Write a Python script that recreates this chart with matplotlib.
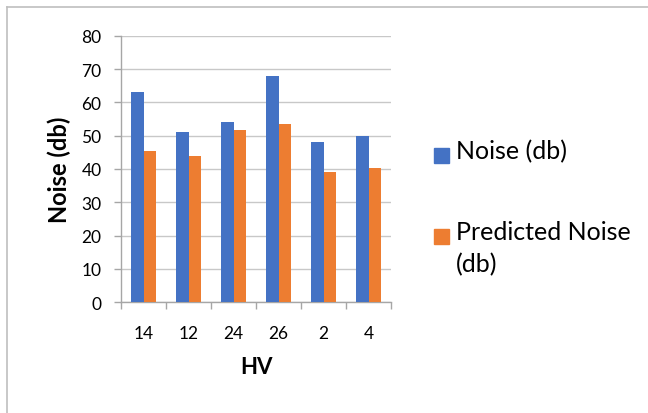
import matplotlib
matplotlib.use("Agg")
import matplotlib.pyplot as plt
import numpy as np
from matplotlib.lines import Line2D
from matplotlib.patches import Rectangle

plt.rcParams['font.family'] = ['Lato', 'DejaVu Sans']

categories = ["14", "12", "24", "26", "2", "4"]
noise = [63, 51, 54, 68, 48, 50]
predicted = [45.4, 43.9, 51.8, 53.4, 39.2, 40.2]
series_names = ["Noise (db)", "Predicted Noise\n(db)"]
colors = ["#4472C4", "#ED7D31"]

W, H = 648, 414
fig = plt.figure(figsize=(W / 100, H / 100), dpi=100)
ax = fig.add_axes([121 / W, 1 - 303.3 / H, 270 / W, 266.6 / H])

x = np.arange(len(categories))
w = 0.278
ax.bar(x - w / 2, noise, width=w, color=colors[0], zorder=3)
ax.bar(x + w / 2, predicted, width=w, color=colors[1], zorder=3)

ax.set_xlim(-0.5, len(categories) - 0.5)
ax.set_ylim(0, 80)
ax.set_yticks(range(0, 81, 10))
ax.yaxis.grid(True, color="#c8c8c8", linewidth=1.0, zorder=0)
ax.set_axisbelow(True)

# tick marks sit on category boundaries, labels in between
ax.set_xticks(np.arange(-0.5, len(categories), 1.0))
ax.set_xticklabels([])
ax.set_xticks(x, minor=True)
ax.set_xticklabels(categories, minor=True)
ax.tick_params(axis='x', which='major', length=5, color="#a6a6a6", width=1)
ax.tick_params(axis='x', which='minor', length=0, pad=16, labelsize=12.5, colors="black")
ax.tick_params(axis='y', length=5, color="#a6a6a6", width=1, pad=9, labelsize=12.5)

for s in ["top", "right"]:
    ax.spines[s].set_visible(False)
for s in ["left", "bottom"]:
    ax.spines[s].set_color("#a6a6a6")
    ax.spines[s].set_linewidth(1)

ax.set_ylabel("Noise (db)", fontsize=17, fontweight="bold")
ax.yaxis.set_label_coords(-0.186, 0.5)
ax.set_xlabel("HV", fontsize=16, fontweight="bold")
ax.xaxis.set_label_coords(0.5, -0.203)

# legend: colour swatch followed by the series name
legend_rows = [156, 237]
for name, col, yc in zip(series_names, colors, legend_rows):
    fig.add_artist(Rectangle((434 / W, 1 - (yc + 7.5) / H), 15 / W, 15 / H,
                             transform=fig.transFigure, color=col))
    fig.text(456 / W, 1 - (yc - 16) / H, name, fontsize=18, va="top", ha="left",
             linespacing=1.45)

# outer chart frame: left and top edges
fig.add_artist(Line2D([6.5 / W, 6.5 / W], [0, 1 - 8 / H], transform=fig.transFigure,
                      color="#bfbfbf", linewidth=1.2))
fig.add_artist(Line2D([6.5 / W, 1], [1 - 8 / H, 1 - 8 / H], transform=fig.transFigure,
                      color="#bfbfbf", linewidth=1.2))

fig.savefig("out.png", dpi=100)
